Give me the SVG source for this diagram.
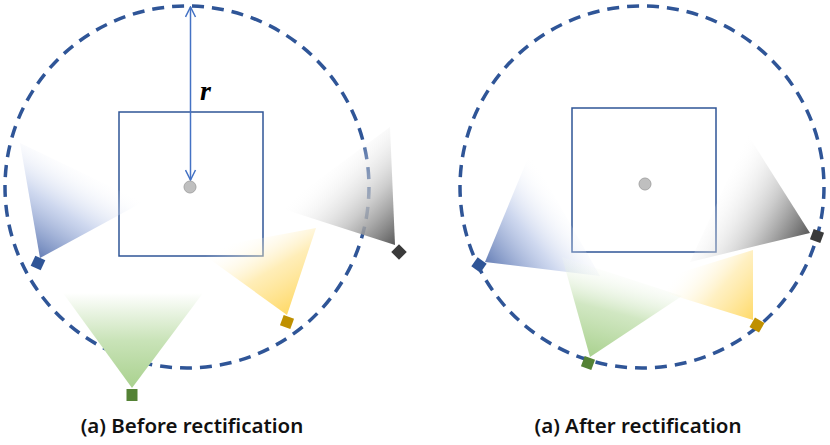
<svg xmlns="http://www.w3.org/2000/svg" width="830" height="445" viewBox="0 0 830 445">
  <style>
    .circ { fill: none; stroke: #2F5597; stroke-width: 3.5; stroke-dasharray: 12 8; }
    .sq { fill: none; stroke: #2F5597; stroke-width: 1.5; }
    .dot { fill: #BFBFBF; stroke: #A6A6A6; stroke-width: 1; }
    .cap { font-family: "Noto Sans", "Open Sans", sans-serif; font-size: 20.5px; font-weight: 600; fill: #111; text-anchor: middle; }
    .arr { stroke: #4472C4; stroke-width: 1.5; fill: none; }
    .cam { stroke: none; }
  </style>
  <defs>
    <marker id="ah" viewBox="0 0 12 12" refX="11" refY="6" markerWidth="12" markerHeight="12" markerUnits="userSpaceOnUse" orient="auto-start-reverse">
      <path d="M1,1 L11,6 L1,11" fill="none" stroke="#4472C4" stroke-width="1.5"/>
    </marker>
    <linearGradient id="gLB" gradientUnits="userSpaceOnUse" x1="40" y1="258" x2="95" y2="170">
      <stop offset="0" stop-color="#5F79B3" stop-opacity="0.95"/>
      <stop offset="0.5" stop-color="#B4C3E6" stop-opacity="0.65"/>
      <stop offset="1" stop-color="#FFFFFF" stop-opacity="0"/>
    </linearGradient>
    <linearGradient id="gLG" gradientUnits="userSpaceOnUse" x1="132" y1="388" x2="132" y2="293">
      <stop offset="0" stop-color="#A9D18E"/>
      <stop offset="0.5" stop-color="#C9E3B8"/>
      <stop offset="1" stop-color="#FFFFFF"/>
    </linearGradient>
    <linearGradient id="gLY" gradientUnits="userSpaceOnUse" x1="287" y1="315" x2="240" y2="235">
      <stop offset="0" stop-color="#FFD966" stop-opacity="1"/>
      <stop offset="0.5" stop-color="#FFE699" stop-opacity="0.7"/>
      <stop offset="1" stop-color="#FFFFFF" stop-opacity="0"/>
    </linearGradient>
    <linearGradient id="gLK" gradientUnits="userSpaceOnUse" x1="395" y1="245" x2="320" y2="170">
      <stop offset="0" stop-color="#595959" stop-opacity="1"/>
      <stop offset="0.45" stop-color="#BFBFBF" stop-opacity="0.8"/>
      <stop offset="1" stop-color="#FFFFFF" stop-opacity="0"/>
    </linearGradient>
    <linearGradient id="gRB" gradientUnits="userSpaceOnUse" x1="485" y1="262" x2="565" y2="200">
      <stop offset="0" stop-color="#5F79B3" stop-opacity="0.95"/>
      <stop offset="0.5" stop-color="#B4C3E6" stop-opacity="0.65"/>
      <stop offset="1" stop-color="#FFFFFF" stop-opacity="0"/>
    </linearGradient>
    <linearGradient id="gRG" gradientUnits="userSpaceOnUse" x1="590" y1="357" x2="615" y2="262">
      <stop offset="0" stop-color="#A9D18E"/>
      <stop offset="0.5" stop-color="#C9E3B8" stop-opacity="0.85"/>
      <stop offset="1" stop-color="#FFFFFF" stop-opacity="0"/>
    </linearGradient>
    <linearGradient id="gRY" gradientUnits="userSpaceOnUse" x1="753" y1="320" x2="685" y2="262">
      <stop offset="0" stop-color="#FFD966" stop-opacity="1"/>
      <stop offset="0.5" stop-color="#FFE699" stop-opacity="0.6"/>
      <stop offset="1" stop-color="#FFFFFF" stop-opacity="0"/>
    </linearGradient>
    <linearGradient id="gRK" gradientUnits="userSpaceOnUse" x1="810" y1="233" x2="720" y2="180">
      <stop offset="0" stop-color="#595959" stop-opacity="1"/>
      <stop offset="0.45" stop-color="#BFBFBF" stop-opacity="0.8"/>
      <stop offset="1" stop-color="#FFFFFF" stop-opacity="0"/>
    </linearGradient>
  </defs>

  <rect x="0" y="0" width="830" height="445" fill="#FFFFFF"/>

  <g id="before">
    <ellipse id="circleL" class="circ" cx="187" cy="187" rx="182" ry="181"/>
    <rect id="squareL" class="sq" x="119" y="112" width="144" height="144"/>
    <g id="conesL">
      <polygon points="40,258 20,143 143,202" fill="url(#gLB)"/>
      <polygon points="132,388 63,293 203,293" fill="url(#gLG)"/>
      <polygon points="287,315 316,228 197,250" fill="url(#gLY)"/>
      <polygon points="395,245 390,127 280,208" fill="url(#gLK)"/>
    </g>
    <g id="camsL">
      <rect class="cam" x="-5.5" y="-5.5" width="11" height="11" fill="#2F5597" transform="translate(38,263) rotate(25)"/>
      <rect class="cam" x="-5.5" y="-6" width="11" height="12" fill="#548235" transform="translate(132,395)"/>
      <rect class="cam" x="-5.5" y="-5.5" width="11" height="11" fill="#BF9000" transform="translate(287,322) rotate(20)"/>
      <rect class="cam" x="-5.5" y="-5.5" width="11" height="11" fill="#3A3A3A" transform="translate(399,252) rotate(45)"/>
    </g>
    <g id="connectors">
      <line class="arr" x1="190.5" y1="7" x2="190.5" y2="180" marker-start="url(#ah)" marker-end="url(#ah)"/>
    </g>
    <circle id="centerL" class="dot" cx="190" cy="187" r="6"/>
    <text id="rlabel" x="200" y="100" font-family="'Liberation Serif', serif" font-style="italic" font-weight="bold" font-size="28" fill="#000">r</text>
    <text id="capL" class="cap" x="192" y="433">(a) Before rectification</text>
  </g>

  <g id="after">
    <ellipse id="circleR" class="circ" cx="642" cy="187" rx="182" ry="181"/>
    <rect id="squareR" class="sq" x="572" y="108" width="144" height="144"/>
    <g id="conesR">
      <polygon points="485,262 530,153 600,276" fill="url(#gRB)"/>
      <polygon points="590,357 562,257 682,296" fill="url(#gRG)"/>
      <polygon points="753,320 753,250 640,285" fill="url(#gRY)"/>
      <polygon points="810,233 748,135 690,262" fill="url(#gRK)"/>
    </g>
    <g id="camsR">
      <rect class="cam" x="-5.5" y="-5.5" width="11" height="11" fill="#2F5597" transform="translate(479,265) rotate(35)"/>
      <rect class="cam" x="-5.5" y="-5.5" width="11" height="11" fill="#548235" transform="translate(588,363) rotate(20)"/>
      <rect class="cam" x="-5.5" y="-5.5" width="11" height="11" fill="#BF9000" transform="translate(757,325) rotate(30)"/>
      <rect class="cam" x="-5.5" y="-5.5" width="11" height="11" fill="#3A3A3A" transform="translate(817,236) rotate(20)"/>
    </g>
    <circle id="centerR" class="dot" cx="645" cy="184" r="6"/>
    <text id="capR" class="cap" x="638" y="433">(a) After rectification</text>
  </g>
</svg>
